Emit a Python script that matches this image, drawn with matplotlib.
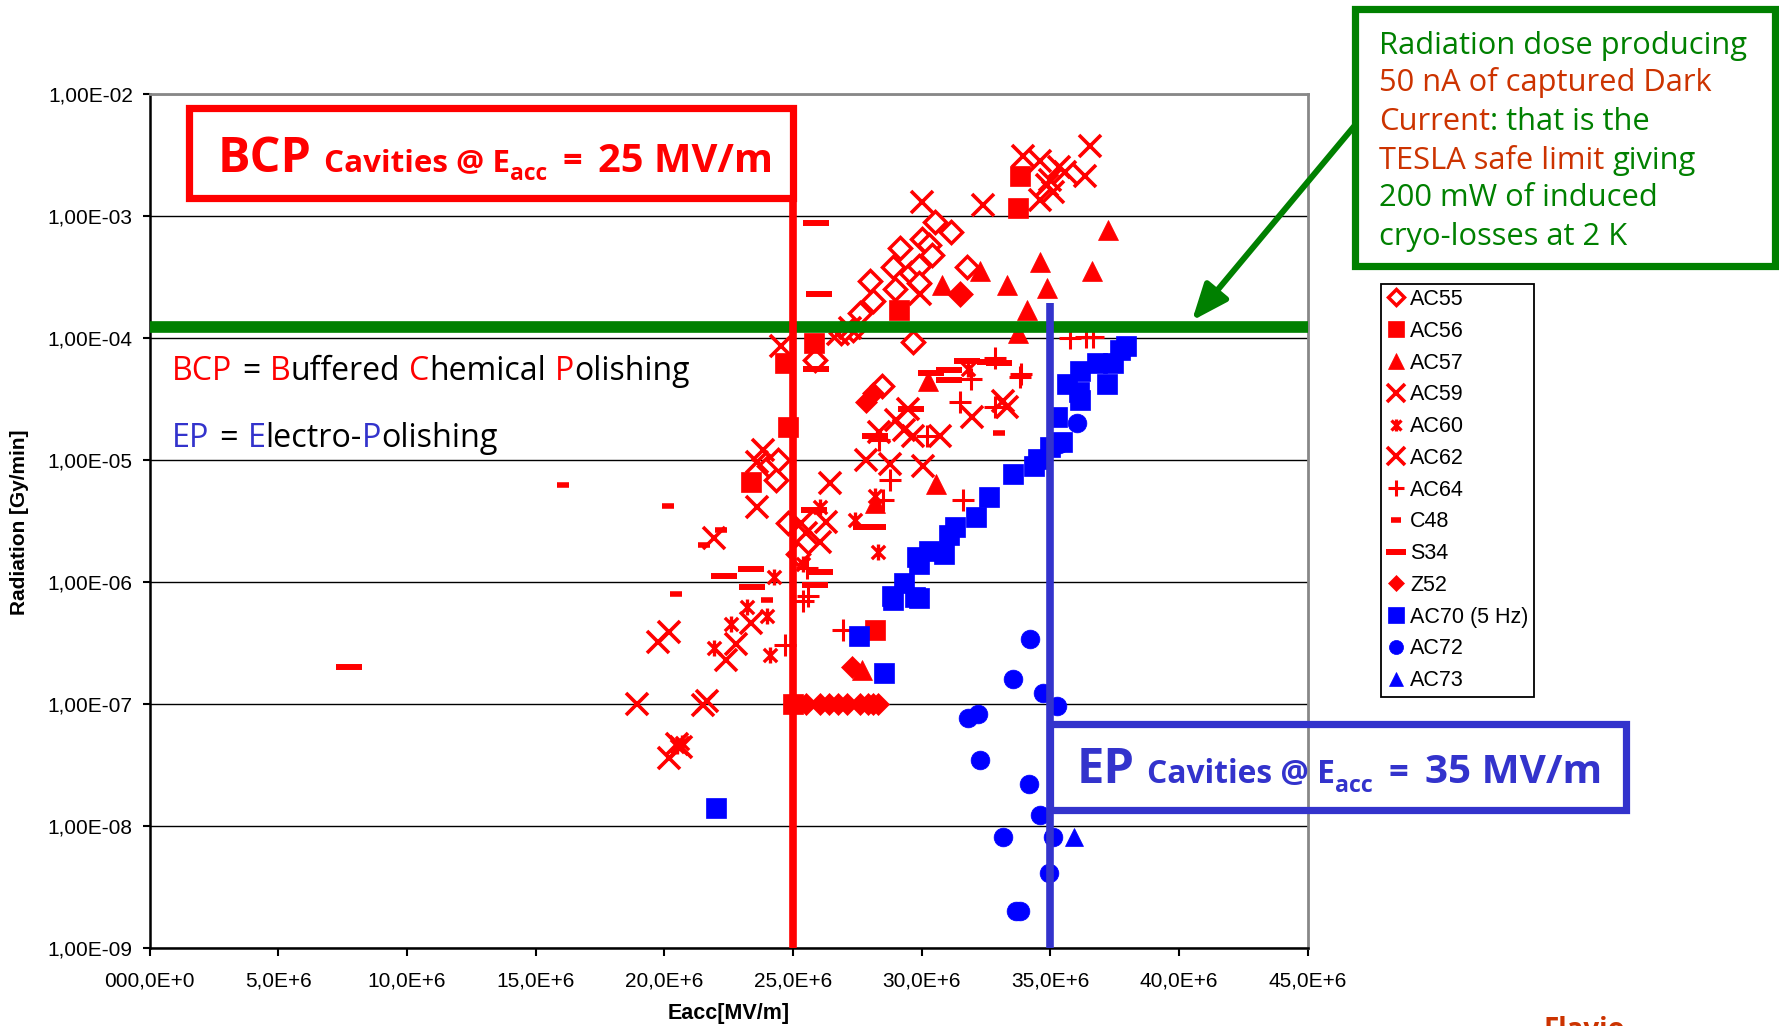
import matplotlib
matplotlib.use("Agg")
import matplotlib.pyplot as plt
from matplotlib.patches import Rectangle
from matplotlib.path import Path
from matplotlib.ticker import NullLocator

plt.rcParams['font.family'] = ['Liberation Sans', 'DejaVu Sans']

W, H = 1779, 1026

# ---------------- data (Eacc in MV/m, radiation in Gy/min) ----------------
ac55_x = [30.5, 31.15, 30.0, 29.15, 30.3, 28.9, 29.6, 29.9, 30.4, 28.95, 29.9, 31.75, 29.65, 28.45,
          28.0, 28.1, 27.6, 27.35, 26.85, 25.85, 24.05, 24.35, 24.4, 24.8, 25.2, 31.5]
ac55_y = [8.9e-4, 7.4e-4, 6.5e-4, 5.4e-4, 5.7e-4, 3.8e-4, 3.4e-4, 3.9e-4, 4.8e-4, 2.5e-4, 2.8e-4, 3.8e-4,
          9.3e-5, 4.0e-5, 2.9e-4, 2.0e-4, 1.6e-4, 1.16e-4, 1.09e-4, 6.6e-5, 8.8e-6, 6.8e-6, 1.0e-5,
          3.0e-6, 1.7e-6, 2.3e-4]

ac56_x = [33.8, 33.75, 29.1, 25.8, 24.7, 24.8, 23.35, 28.2, 25.0]
ac56_y = [2.1e-3, 1.15e-3, 1.7e-4, 9.0e-5, 6.2e-5, 1.86e-5, 6.6e-6, 4.0e-7, 1.0e-7]

ac57_x = [37.25, 34.6, 36.6, 32.25, 30.8, 33.3, 34.85, 34.1, 33.75, 30.25, 30.55, 28.2, 27.7]
ac57_y = [7.6e-4, 4.2e-4, 3.5e-4, 3.5e-4, 2.7e-4, 2.7e-4, 2.55e-4, 1.7e-4, 1.09e-4, 4.4e-5, 6.3e-6,
          4.4e-6, 1.9e-7]

ac59_x = [36.55, 33.95, 34.6, 35.35, 35.55, 36.35, 35.0, 35.1, 34.6, 32.4, 30.0, 34.85, 29.95, 26.75,
          27.2, 24.55, 29.3]
ac59_y = [3.7e-3, 3.1e-3, 2.8e-3, 2.5e-3, 2.3e-3, 2.1e-3, 1.96e-3, 1.57e-3, 1.35e-3, 1.22e-3, 1.3e-3,
          1.8e-3, 2.3e-4, 1.07e-4, 1.2e-4, 8.5e-5, 1.75e-5]

ac60_x = [24.25, 23.2, 24.0, 21.95, 24.1, 28.3, 26.05, 28.2, 27.4, 31.8, 25.4, 22.6, 20.5, 20.7]
ac60_y = [1.1e-6, 6.2e-7, 5.2e-7, 2.85e-7, 2.5e-7, 1.76e-6, 4.1e-6, 5.0e-6, 3.2e-6, 5.5e-5, 1.4e-6,
          4.5e-7, 4.5e-8, 4.8e-8]

ac62_x = [23.85, 23.6, 26.45, 23.6, 26.3, 21.95, 20.2, 19.75, 22.4, 22.8, 23.35, 18.95, 21.5, 20.5,
          20.2, 31.95, 30.7, 30.05, 28.75, 33.3, 27.85, 28.35, 29.0, 29.45, 29.65, 33.15, 25.5, 26.05,
          25.3, 21.65, 20.65]
ac62_y = [1.2e-5, 9.6e-6, 6.4e-6, 4.1e-6, 3.1e-6, 2.3e-6, 3.9e-7, 3.2e-7, 2.3e-7, 3.1e-7, 4.6e-7,
          1.0e-7, 9.8e-8, 4.7e-8, 3.6e-8, 2.25e-5, 1.55e-5, 8.8e-6, 9.3e-6, 2.7e-5, 1.0e-5, 1.7e-5,
          2.1e-5, 2.6e-5, 1.55e-5, 3.0e-5, 2.5e-6, 2.1e-6, 3.0e-6, 1.05e-7, 4.4e-8]

ac64_x = [33.8, 32.85, 31.9, 35.75, 36.4, 36.65, 28.75, 28.5, 31.6, 30.2, 32.85, 25.4, 25.6, 24.7,
          26.95, 31.5, 33.85, 25.55, 28.35]
ac64_y = [4.8e-5, 6.8e-5, 4.6e-5, 9.9e-5, 1.02e-4, 1.02e-4, 6.8e-6, 4.7e-6, 4.7e-6, 1.55e-5, 2.7e-5,
          6.9e-7, 7.6e-7, 3.0e-7, 4.0e-7, 2.95e-5, 5.0e-5, 1.3e-6, 1.45e-5]

c48_x = [16.05, 20.15, 20.45, 24.0, 33.0, 21.55, 22.2]
c48_y = [6.2e-6, 4.2e-6, 8.0e-7, 7.1e-7, 1.65e-5, 2.0e-6, 2.65e-6]

s34_x = [7.75, 25.9, 26.0, 25.9, 22.3, 23.35, 23.4, 26.05, 25.85, 25.8, 28.1, 31.05, 31.75, 32.65,
         33.0, 30.35, 31.05, 29.6, 28.2, 27.85]
s34_y = [2.0e-7, 8.7e-4, 2.3e-4, 5.5e-5, 1.12e-6, 1.26e-6, 9.1e-7, 1.2e-6, 9.4e-7, 3.9e-6, 2.8e-6,
         5.4e-5, 6.4e-5, 6.3e-5, 6.2e-5, 5.1e-5, 4.5e-5, 2.6e-5, 1.55e-5, 2.8e-6]

z52_x = [25.05, 25.5, 26.05, 26.4, 26.75, 27.1, 27.6, 27.9, 28.1, 28.3, 27.85, 28.1, 31.5, 27.3]
z52_y = [1.0e-7, 1.0e-7, 1.0e-7, 1.0e-7, 1.0e-7, 1.0e-7, 1.0e-7, 1.0e-7, 1.0e-7, 1.0e-7,
         2.95e-5, 3.5e-5, 2.3e-4, 2.0e-7]

ac70_x = [22.0, 27.55, 28.55, 28.85, 28.9, 29.3, 29.75, 29.9, 29.9, 29.8, 30.3, 30.85, 31.05, 31.3,
          32.1, 32.6, 33.55, 34.35, 34.5, 35.0, 35.25, 35.45, 36.15, 35.65, 36.15, 36.8, 37.2, 37.45,
          37.7, 37.95, 36.1]
ac70_y = [1.4e-8, 3.6e-7, 1.8e-7, 7.6e-7, 7.1e-7, 9.7e-7, 7.5e-7, 7.3e-7, 1.4e-6, 1.6e-6, 1.8e-6,
          1.7e-6, 2.4e-6, 2.8e-6, 3.4e-6, 4.9e-6, 7.7e-6, 8.8e-6, 1.02e-5, 1.28e-5, 2.25e-5, 1.4e-5,
          3.1e-5, 4.2e-5, 5.3e-5, 6.2e-5, 4.2e-5, 6.2e-5, 7.9e-5, 8.5e-5, 3.6e-5]

ac72_x = [34.2, 33.55, 34.7, 35.25, 31.8, 32.2, 32.25, 34.15, 34.6, 33.15, 35.1, 34.95, 33.65, 33.8,
          36.05, 35.35]
ac72_y = [3.4e-7, 1.6e-7, 1.23e-7, 9.6e-8, 7.7e-8, 8.3e-8, 3.45e-8, 2.2e-8, 1.23e-8, 8.1e-9, 8.1e-9,
          4.1e-9, 2.0e-9, 2.0e-9, 2.0e-5, 1.35e-5]

ac73_x = [35.9]
ac73_y = [8.1e-9]

series_names = ["AC55", "AC56", "AC57", "AC59", "AC60", "AC62", "AC64", "C48", "S34", "Z52",
                "AC70 (5 Hz)", "AC72", "AC73"]

x_ticks = [0, 5, 10, 15, 20, 25, 30, 35, 40, 45]
x_tick_labels = ["000,0E+0", "5,0E+6", "10,0E+6", "15,0E+6", "20,0E+6", "25,0E+6", "30,0E+6",
                 "35,0E+6", "40,0E+6", "45,0E+6"]
y_ticks = [1e-9, 1e-8, 1e-7, 1e-6, 1e-5, 1e-4, 1e-3, 1e-2]
y_tick_labels = ["1,00E-09", "1,00E-08", "1,00E-07", "1,00E-06", "1,00E-05", "1,00E-04",
                 "1,00E-03", "1,00E-02"]

BCP_EACC = 25.0        # MV/m
EP_EACC = 35.0         # MV/m
SAFE_DOSE = 1.22e-4    # Gy/min (50 nA captured dark current)

RED = "#FF0000"
BLUE = "#0000FF"
EPBLUE = "#3333CC"
GREEN = "#008000"
ORANGE = "#CC3300"

# star marker (x with vertical bar)
star_path = Path([(-1, -1), (1, 1), (-1, 1), (1, -1), (0, -1.2), (0, 1.2)],
                 [Path.MOVETO, Path.LINETO, Path.MOVETO, Path.LINETO, Path.MOVETO, Path.LINETO])

fig = plt.figure(figsize=(W / 100, H / 100), dpi=100)
ax = fig.add_axes([149.5 / W, 1 - 947.7 / H, (1307.8 - 149.5) / W, (947.7 - 93.7) / H])

styles = [
    (ac55_x, ac55_y, dict(marker='D', ms=11, mfc='white', mec=RED, mew=2.5, color=RED)),
    (ac56_x, ac56_y, dict(marker='s', ms=14.5, mfc=RED, mec=RED, mew=0.5, color=RED)),
    (ac57_x, ac57_y, dict(marker='^', ms=14.5, mfc=RED, mec=RED, mew=0.5, color=RED)),
    (ac59_x, ac59_y, dict(marker='x', ms=16.5, mew=2.6, color=RED)),
    (ac60_x, ac60_y, dict(marker=star_path, ms=11.5, mew=2.4, color=RED)),
    (ac62_x, ac62_y, dict(marker='x', ms=16.5, mew=2.6, color=RED)),
    (ac64_x, ac64_y, dict(marker='+', ms=15.5, mew=2.2, color=RED)),
    (c48_x, c48_y, dict(marker='_', ms=9, mew=4.0, color=RED)),
    (s34_x, s34_y, dict(marker='_', ms=19, mew=4.3, color=RED)),
    (z52_x, z52_y, dict(marker='D', ms=11, mfc=RED, mec=RED, mew=0.5, color=RED)),
    (ac70_x, ac70_y, dict(marker='s', ms=15, mfc=BLUE, mec=BLUE, mew=0.5, color=BLUE)),
    (ac72_x, ac72_y, dict(marker='o', ms=13.5, mfc=BLUE, mec=BLUE, mew=0.5, color=BLUE)),
    (ac73_x, ac73_y, dict(marker='^', ms=13.5, mfc=BLUE, mec=BLUE, mew=0.5, color=BLUE)),
]
for (xs, ys, st), name in zip(styles, series_names):
    ax.plot(xs, ys, linestyle='none', label=name, zorder=3, **st)

ax.set_yscale('log')
ax.set_xlim(0, 45)
ax.set_ylim(1e-9, 1e-2)
ax.set_xticks(x_ticks)
ax.set_xticklabels(x_tick_labels)
ax.set_yticks(y_ticks)
ax.set_yticklabels(y_tick_labels)
ax.yaxis.set_minor_locator(NullLocator())
ax.tick_params(axis='x', direction='out', length=6, width=1.5, labelsize=15, pad=11)
ax.tick_params(axis='y', direction='out', length=5, width=1.5, labelsize=15, pad=7)
ax.yaxis.grid(True, color='black', lw=1.0)
ax.set_axisbelow(True)
for side in ('left', 'bottom'):
    ax.spines[side].set_color('black')
    ax.spines[side].set_linewidth(1.8)
for side in ('top', 'right'):
    ax.spines[side].set_color('#888888')
    ax.spines[side].set_linewidth(2.0)

fig.text(20 / W, 1 - 522 / H, "Radiation [Gy/min]", rotation=90, ha='center', va='center',
         fontsize=15, fontweight='bold')
fig.text(729 / W, 1 - 1013 / H, "Eacc[MV/m]", ha='center', va='center', fontsize=15.5,
         fontweight='bold')

# ---- reference lines ----
ax.axhline(SAFE_DOSE, color=GREEN, lw=8.4, zorder=5)
bcp_box_bottom, bcp_box_top, bcp_box_left = 10 ** -2.851, 10 ** -2.121, 1.55
ax.plot([BCP_EACC, BCP_EACC], [1e-9, bcp_box_bottom], color=RED, lw=5.5, solid_capstyle='butt',
        zorder=6, clip_on=False)
ax.add_patch(Rectangle((bcp_box_left, bcp_box_bottom), BCP_EACC - bcp_box_left,
                       bcp_box_top - bcp_box_bottom, fill=True, fc='white', ec=RED, lw=5.2,
                       zorder=6, clip_on=False, joinstyle='miter'))
ax.plot([EP_EACC, EP_EACC], [1e-9, 1.94e-4], color=EPBLUE, lw=5.5, solid_capstyle='butt',
        zorder=6, clip_on=False)
ep_box_bottom, ep_box_top, ep_box_right = 10 ** -7.869, 10 ** -7.17, 57.35
ax.add_patch(Rectangle((EP_EACC, ep_box_bottom), ep_box_right - EP_EACC, ep_box_top - ep_box_bottom,
                       fill=False, ec=EPBLUE, lw=5.2, zorder=6, clip_on=False, joinstyle='miter'))

# green annotation box + arrow
fig.patches.append(Rectangle((1355 / W, 1 - 265.6 / H), (1775 - 1355) / W, (265.6 - 9.5) / H,
                             transform=fig.transFigure, fill=False, ec=GREEN, lw=5.2,
                             joinstyle='miter'))
ax.annotate('', xy=(40.5, SAFE_DOSE * 1.13), xycoords='data',
            xytext=(1356 / W, 1 - 124 / H), textcoords='figure fraction',
            arrowprops=dict(arrowstyle='-|>,head_length=1.1,head_width=0.45', color=GREEN, lw=4.3,
                            shrinkA=0, shrinkB=0, mutation_scale=20),
            annotation_clip=False, zorder=7)

# ---- legend ----
leg = fig.legend(loc='upper left', bbox_to_anchor=(1381 / W, 1 - 283.6 / H), borderaxespad=0,
                 frameon=True, fancybox=False, edgecolor='black', fontsize=15.5, handlelength=0.9,
                 handletextpad=0.2, borderpad=0.25, labelspacing=0.50, markerscale=0.75,
                 framealpha=1)
leg.get_frame().set_linewidth(1.3)

# ---- multi-coloured texts ----
fig.canvas.draw()
renderer = fig.canvas.get_renderer()
TXTFONT = ['Open Sans', 'DejaVu Sans']


def chain(x0, y_base, pieces, target_w, weight='normal', family=TXTFONT):
    def build(scale):
        arts = []
        x = x0
        for p in pieces:
            if p[0] is None:
                x += p[1] * p[2] * scale * 100 / 72
                continue
            txt, size, color, dy = p
            t = fig.text(x / W, 1 - (y_base + dy * scale) / H, txt, fontsize=size * scale,
                         color=color, family=family, fontweight=weight, ha='left', va='baseline')
            x += t.get_window_extent(renderer).width
            arts.append(t)
        return arts, x - x0
    arts, w = build(1.0)
    for a in arts:
        a.remove()
    s = target_w / w
    build(s)
    return s


chain(218, 171.5, [("BCP", 34, RED, 0), (None, 0.25, 34), ("Cavities @ E", 22, RED, 0),
                   ("acc", 16, RED, 8), (None, 0.5, 22), ("=", 24, RED, 0), (None, 0.5, 22),
                   ("25 MV/m", 28, RED, 0)], 772 - 218, weight='bold')
chain(1077, 783.3, [("EP", 34, EPBLUE, 0), (None, 0.25, 34), ("Cavities @ E", 22, EPBLUE, 0),
                    ("acc", 16, EPBLUE, 8), (None, 0.5, 22), ("=", 24, EPBLUE, 0), (None, 0.5, 22),
                    ("35 MV/m", 28, EPBLUE, 0)], 1601 - 1077, weight='bold')

chain(172, 380, [("BCP", 22, RED, 0), (None, 0.3, 22), ("=", 22, 'black', 0), (None, 0.3, 22),
                 ("B", 22, RED, 0), ("uffered", 22, 'black', 0), (None, 0.28, 22),
                 ("C", 22, RED, 0), ("hemical", 22, 'black', 0), (None, 0.28, 22),
                 ("P", 22, RED, 0), ("olishing", 22, 'black', 0)], 517)
chain(172, 446.7, [("EP", 22, EPBLUE, 0), (None, 0.3, 22), ("=", 22, 'black', 0), (None, 0.3, 22),
                   ("E", 22, EPBLUE, 0), ("lectro-", 22, 'black', 0),
                   ("P", 22, EPBLUE, 0), ("olishing", 22, 'black', 0)], 327)

g_lines = [
    (53.6, [("Radiation dose producing", 20, GREEN, 0)], 367),
    (91.5, [("50 nA of captured Dark", 20, ORANGE, 0)], None),
    (130.4, [("Current", 20, ORANGE, 0), (": that is the", 20, GREEN, 0)], None),
    (168.8, [("TESLA safe limit", 20, ORANGE, 0), (None, 0.28, 20), ("giving", 20, GREEN, 0)], None),
    (206.0, [("200 mW of induced", 20, GREEN, 0)], None),
    (245.5, [("cryo-losses at 2 K", 20, GREEN, 0)], None),
]
scale = None
for yb, pcs, tw in g_lines:
    if tw is not None:
        scale = chain(1379, yb, pcs, tw)
    else:
        x = 1379
        for p in pcs:
            if p[0] is None:
                x += p[1] * p[2] * scale * 100 / 72
                continue
            t = fig.text(x / W, 1 - yb / H, p[0], fontsize=p[1] * scale, color=p[2], family=TXTFONT,
                         ha='left', va='baseline')
            x += t.get_window_extent(renderer).width

# partially visible footer text at the bottom edge (cut off in the original slide)
fig.text(1543 / W, 1 - 1016 / H, "Flavio", color=ORANGE, fontsize=20, fontweight='bold',
         ha='left', va='top', family=TXTFONT)

fig.savefig("out.png", dpi=100, facecolor='white')
